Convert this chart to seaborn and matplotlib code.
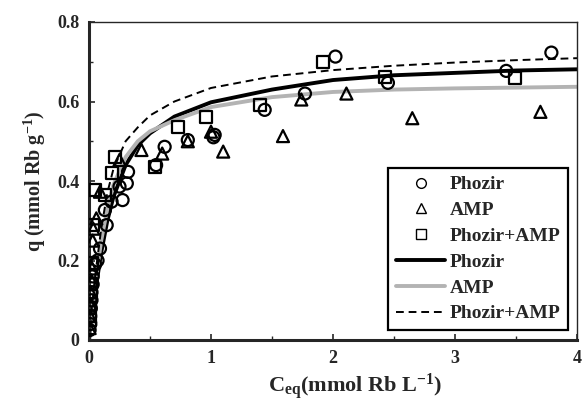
import numpy as np
import pandas as pd
import seaborn as sns
import matplotlib
matplotlib.use("Agg")
import matplotlib.pyplot as plt
from matplotlib.lines import Line2D
from matplotlib.ticker import MultipleLocator

# ---- data ----
phozir_x = [0.005, 0.01, 0.01, 0.015, 0.02, 0.02, 0.03, 0.03, 0.05, 0.07, 0.09, 0.13, 0.145,
            0.185, 0.25, 0.275, 0.31, 0.32, 0.55, 0.62, 0.81, 1.02, 1.03, 1.44, 1.77, 2.02,
            2.45, 3.42, 3.79]
phozir_y = [0.025, 0.04, 0.06, 0.08, 0.10, 0.12, 0.14, 0.16, 0.19, 0.20, 0.23, 0.327, 0.289,
            0.348, 0.386, 0.352, 0.394, 0.423, 0.44, 0.486, 0.503, 0.51, 0.516, 0.579, 0.62,
            0.713, 0.647, 0.677, 0.723]

amp_x = [0.005, 0.01, 0.01, 0.015, 0.02, 0.025, 0.03, 0.035, 0.06, 0.09, 0.25, 0.43, 0.60,
         0.81, 1.0, 1.10, 1.59, 1.74, 2.11, 2.65, 3.70]
amp_y = [0.03, 0.06, 0.09, 0.12, 0.15, 0.18, 0.25, 0.28, 0.306, 0.373, 0.453, 0.478, 0.469,
         0.50, 0.524, 0.474, 0.513, 0.605, 0.62, 0.558, 0.574]

mix_x = [0.005, 0.01, 0.015, 0.02, 0.025, 0.035, 0.05, 0.13, 0.185, 0.21, 0.54, 0.73, 0.96,
         1.40, 1.92, 2.43, 3.49]
mix_y = [0.05, 0.08, 0.11, 0.14, 0.193, 0.289, 0.377, 0.365, 0.419, 0.461, 0.436, 0.537,
         0.562, 0.591, 0.699, 0.662, 0.658]

curve_x = [0, 0.02, 0.05, 0.1, 0.15, 0.2, 0.3, 0.4, 0.5, 0.7, 1.0, 1.5, 2.0, 2.5, 3.0, 3.5, 4.0]
fit_phozir = [0, 0.05, 0.12, 0.22, 0.30, 0.36, 0.44, 0.49, 0.52, 0.562, 0.598, 0.630, 0.654,
              0.666, 0.672, 0.678, 0.681]
fit_amp = [0, 0.06, 0.14, 0.25, 0.33, 0.39, 0.46, 0.50, 0.525, 0.553, 0.586, 0.611, 0.624,
           0.630, 0.633, 0.635, 0.637]
fit_mix = [0, 0.07, 0.16, 0.28, 0.37, 0.43, 0.50, 0.535, 0.565, 0.60, 0.634, 0.663, 0.679,
           0.690, 0.698, 0.704, 0.709]

x_ticks = [0, 1, 2, 3, 4]
x_ticklabels = ["0", "1", "2", "3", "4"]
y_ticks = [0, 0.2, 0.4, 0.6, 0.8]
y_ticklabels = ["0", "0.2", "0.4", "0.6", "0.8"]

# ---- style ----
sns.set_style("ticks")
plt.rcParams["font.family"] = ["Liberation Serif", "DejaVu Serif"]
plt.rcParams["font.weight"] = "bold"
plt.rcParams["mathtext.default"] = "regular"
plt.rcParams["xtick.direction"] = "in"
plt.rcParams["ytick.direction"] = "in"

fig = plt.figure(figsize=(5.82, 4.0), dpi=100)
ax = fig.add_axes([89 / 582, 60 / 400, 488 / 582, 318 / 400])

# fitted curves
sns.lineplot(x=curve_x, y=fit_phozir, ax=ax, color="black", lw=2.8, label="_nolegend_",
             estimator=None, sort=False)
sns.lineplot(x=curve_x, y=fit_amp, ax=ax, color="#b3b3b3", lw=2.8, label="_nolegend_",
             estimator=None, sort=False)
sns.lineplot(x=curve_x, y=fit_mix, ax=ax, color="black", lw=1.4, linestyle=(0, (4, 2.5)),
             label="_nolegend_", estimator=None, sort=False)

# experimental points
kw = dict(ax=ax, facecolor="none", edgecolor="black", linewidth=1.6, zorder=5)
sns.scatterplot(x=phozir_x, y=phozir_y, marker="o", s=75, **kw)
sns.scatterplot(x=amp_x, y=amp_y, marker="^", s=75, **kw)
sns.scatterplot(x=mix_x, y=mix_y, marker="s", s=75, **kw)

ax.set_xlim(0, 4)
ax.set_ylim(0, 0.8)
ax.set_xticks(x_ticks)
ax.set_xticklabels(x_ticklabels)
ax.set_yticks(y_ticks)
ax.set_yticklabels(y_ticklabels)
ax.xaxis.set_minor_locator(MultipleLocator(0.5))
ax.yaxis.set_minor_locator(MultipleLocator(0.1))
ax.tick_params(axis="both", which="major", labelsize=13, length=4, width=1.2, pad=7)
ax.tick_params(axis="both", which="minor", length=3, width=1.0)
for lab in ax.get_xticklabels() + ax.get_yticklabels():
    lab.set_fontweight("bold")

for side in ["left", "bottom"]:
    ax.spines[side].set_linewidth(2.2)
for side in ["right", "top"]:
    ax.spines[side].set_visible(True)
    ax.spines[side].set_linewidth(1.0)

ax.set_xlabel(r"C$_{eq}$(mmol Rb L$^{-1}$)", fontsize=16, fontweight="bold")
ax.set_ylabel(r"q (mmol Rb g$^{-1}$)", fontsize=14.5, fontweight="bold")
ax.xaxis.set_label_coords(0.545, -0.097)
ax.yaxis.set_label_coords(-0.085, 0.5)

handles = [
    Line2D([], [], ls="none", marker="o", mfc="none", mec="black", ms=7, mew=1.0),
    Line2D([], [], ls="none", marker="^", mfc="none", mec="black", ms=7, mew=1.0),
    Line2D([], [], ls="none", marker="s", mfc="none", mec="black", ms=7, mew=1.0),
    Line2D([], [], color="black", lw=2.8),
    Line2D([], [], color="#b3b3b3", lw=2.8),
    Line2D([], [], color="black", lw=1.4, ls=(0, (4, 2.5))),
]
labels = ["Phozir", "AMP", "Phozir+AMP", "Phozir", "AMP", "Phozir+AMP"]
leg = ax.legend(handles, labels, loc="lower right", bbox_to_anchor=(0.982, 0.031),
                frameon=True, fancybox=False, edgecolor="black", framealpha=1,
                prop={"family": "Liberation Serif", "weight": "bold", "size": 14},
                handlelength=2.5, handletextpad=0.25, labelspacing=0.42, borderpad=0.4,
                borderaxespad=0)
leg.get_frame().set_linewidth(1.6)

fig.savefig("out.png", dpi=100)
